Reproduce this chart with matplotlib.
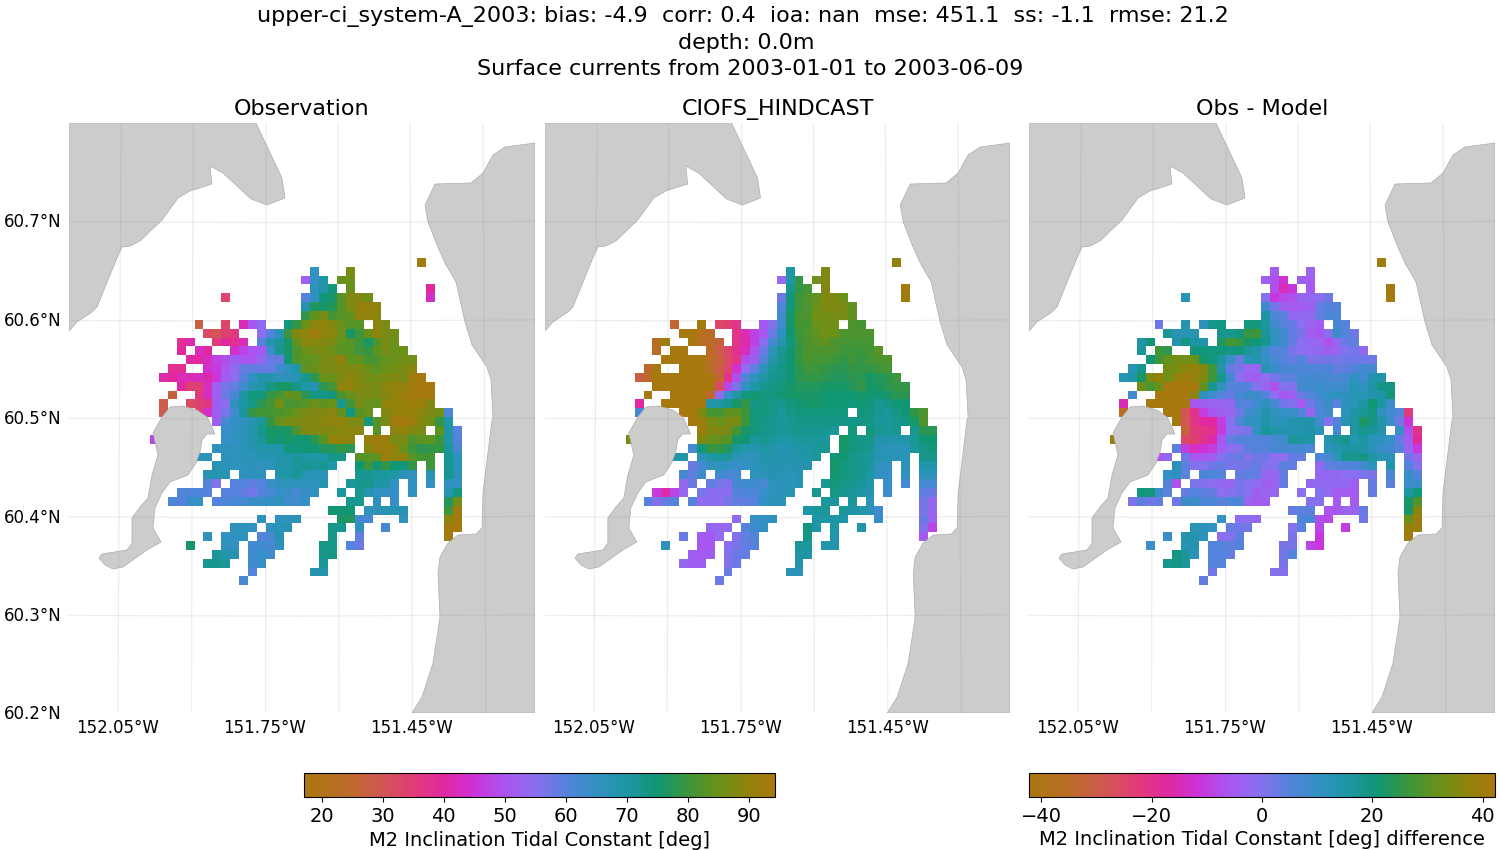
import numpy as np
import matplotlib
matplotlib.use('Agg')
import matplotlib.pyplot as plt
from matplotlib.colors import LinearSegmentedColormap
from matplotlib.patches import Polygon

# each run is (row, first column, values) on the model grid
obs_runs = [
    (-1, 30, [93]), (0, 18, [65]), (0, 22, [87]),
    (1, 17, [52, 65, 70]), (1, 21, [85, 85]),
    (2, 18, [66, 69, 74]), (2, 22, [85]), (2, 31, [40]),
    (3, 8, [33]), (3, 17, [60, 65, 74, 76, 83, 88, 88, 86]), (3, 31, [44]),
    (4, 17, [68, 77, 76, 77, 83, 87, 91, 91, 90]),
    (5, 17, [79, 84, 87, 81, 83, 84, 90, 90, 89]),
    (6, 5, [28]), (6, 8, [33]), (6, 10, [42, 50, 55]), (6, 15, [74, 79, 85, 89, 90, 88, 85, 83, 83]), (6, 25, [89, 87]),
    (7, 6, [32, 30, 34, 36]), (7, 12, [55, 60, 67, 80, 88, 90, 93, 90, 89, 85, 76, 80, 85, 90, 87, 86]),
    (8, 3, [38, 41]), (8, 7, [36, 40, 38, 42]), (8, 12, [60, 68, 71, 76, 84, 89, 89, 88, 87, 84, 83, 80, 76, 82, 87, 85]),
    (9, 3, [40]), (9, 5, [43, 40]), (9, 9, [44, 47, 50, 51, 63, 72, 76, 82, 85, 87, 87, 85, 83, 83, 80, 79, 84, 87, 85, 85]),
    (10, 4, [40, 40, 43, 47, 49, 52, 50, 50, 54, 58, 59, 75, 82, 84, 84, 87, 88, 90, 84, 84, 81, 82, 84, 85, 86, 86]),
    (11, 2, [38, 38]), (11, 6, [44, 46, 50, 54, 59, 59, 58, 58, 63, 66, 70, 84, 85, 87, 87, 88, 88, 87, 85, 83, 85, 86, 87, 89]),
    (12, 1, [41, 40, 42, 42, 43, 41, 45, 52, 55, 60, 65, 69, 68, 66, 67, 68, 72, 78, 85, 85, 88, 89, 88, 86, 86, 87, 88, 87, 93, 94]),
    (13, 3, [40, 34, 34, 43, 52, 57, 59, 63, 68, 70, 73, 76, 76, 73, 70, 68, 78, 81, 90, 90, 88, 87, 87, 89, 90, 90, 93, 94, 94]),
    (14, 2, [27]), (14, 5, [36, 43, 52, 58, 62, 70, 74, 74, 79, 81, 85, 84, 78, 73, 73, 74, 82, 85, 87, 87, 87, 88, 90, 92, 93, 94, 94]),
    (15, 1, [29]), (15, 4, [32, 34, 37, 52, 55, 66, 70, 73, 78, 81, 86, 81, 82, 83, 85, 84, 85, 72, 80, 87, 85, 84, 90, 90, 91, 92, 91, 88]),
    (16, 1, [29]), (16, 5, [34, 44, 52, 57, 63, 71, 79, 81, 81, 82, 83, 85, 87, 88, 88, 89, 84, 74, 83, 85]), (16, 26, [88, 90, 91, 91, 89, 87, 86, 61]),
    (17, 7, [52, 62, 65, 66, 68, 71, 79, 85, 87, 87, 88, 88, 89, 90, 90, 88, 87, 74, 83, 87, 93, 94, 92, 88, 86, 79, 70]),
    (18, 8, [64, 65, 67, 69, 72, 76, 76, 76, 82, 88, 88, 88, 88, 89, 89, 89]), (18, 25, [83]), (18, 27, [89, 90, 88, 87]), (18, 32, [84, 70, 60]),
    (19, 0, [48]), (19, 8, [64, 65, 67, 68, 71, 76, 75, 76, 75, 75, 78, 83, 90, 90, 89]), (19, 24, [91, 92, 92, 87, 87, 82, 84, 84, 80, 70, 60]),
    (20, 7, [66, 66, 66, 67, 68, 69, 69, 69, 74, 74, 75, 75, 77, 77, 79, 78]), (20, 24, [89, 92, 92, 90, 85, 80, 78, 79, 79, 71, 62]),
    (21, 5, [66, 67]), (21, 8, [67, 66, 67, 67, 68, 68, 69, 69, 71, 70, 70, 70, 73, 73]), (21, 23, [83, 83, 84, 92, 90, 90, 83, 81, 81]), (21, 33, [72, 67]),
    (22, 7, [68, 67, 66, 66, 67, 66, 66, 69, 70, 71, 72, 71, 72, 70]), (22, 23, [75, 80, 75, 79, 75, 74, 79]), (22, 31, [80]), (22, 33, [72, 67]),
    (23, 6, [68, 68, 68]), (23, 10, [66, 66, 66]), (23, 14, [70, 70, 71, 68, 67, 67]), (23, 23, [72, 72, 71, 71, 70, 67, 66]), (23, 31, [68]), (23, 33, [72, 67]),
    (24, 6, [60, 56]), (24, 9, [60, 60, 59, 60, 64, 66, 66, 66, 66, 66, 68]), (24, 22, [71, 72, 72, 70, 70, 65]), (24, 29, [65]), (24, 31, [65]), (24, 33, [66, 65]),
    (25, 3, [61, 61, 61, 60]), (25, 8, [60, 60, 59, 57, 60, 62, 64, 64, 62, 64, 66]), (25, 21, [71]), (25, 23, [72, 68, 65, 65, 64]), (25, 29, [65]), (25, 33, [68, 74]),
    (26, 2, [61, 60, 64, 65]), (26, 7, [60, 61, 62, 62, 64, 64, 65, 66, 63, 63, 65]), (26, 22, [72, 72]), (26, 25, [66]), (26, 27, [64]), (26, 33, [77, 86]),
    (27, 20, [75, 75, 75]), (27, 24, [66, 66, 68, 68, 68]), (27, 33, [80, 93]),
    (28, 12, [66]), (28, 14, [66, 66, 67]), (28, 21, [76, 77, 63, 62]), (28, 28, [66]), (28, 33, [89, 93]),
    (29, 9, [66, 66, 65]), (29, 13, [66, 67, 68]), (29, 20, [73, 72]), (29, 23, [66]), (29, 26, [62]), (29, 33, [93, 94]),
    (30, 6, [66]), (30, 8, [65, 65, 66]), (30, 12, [60, 62, 68]), (30, 20, [73]), (30, 23, [59]), (30, 33, [93]),
    (31, 4, [76]), (31, 8, [66, 65]), (31, 11, [62, 63, 62, 66]), (31, 19, [73, 73]), (31, 22, [60, 58]),
    (32, 7, [71, 69, 68]), (32, 11, [63, 64, 63]), (32, 19, [73, 73]),
    (33, 6, [72, 72, 71]), (33, 11, [63, 64]), (33, 19, [71]),
    (34, 11, [60]), (34, 18, [68, 68]), (35, 10, [62]),
]

model_runs = [
    (-1, 30, [90]), (0, 18, [70]), (0, 22, [88]),
    (1, 17, [54, 70, 79]), (1, 21, [86, 88]),
    (2, 18, [72, 79, 81]), (2, 22, [88]), (2, 31, [94]),
    (3, 17, [58, 74, 80, 82, 84, 88, 88, 85]), (3, 31, [92]),
    (4, 17, [61, 74, 80, 82, 85, 88, 88, 87, 84]),
    (5, 17, [63, 76, 81, 82, 86, 86, 87, 87, 84]),
    (6, 5, [26]), (6, 8, [93]), (6, 10, [33, 34, 37]), (6, 15, [51, 56, 63, 76, 81, 81, 85, 86, 86]), (6, 25, [82, 81]),
    (7, 6, [94, 94, 22, 24]), (7, 12, [37, 42, 47, 51, 58, 66, 75, 80, 82, 84, 86, 85, 82, 82, 82, 82]),
    (8, 3, [22, 92]), (8, 7, [94, 22, 24, 27]), (8, 12, [37, 41, 47, 55, 62, 68, 74, 79, 82, 83, 84, 82, 81, 81, 81, 81]),
    (9, 3, [23]), (9, 5, [94, 94]), (9, 9, [24, 28, 33, 38, 43, 50, 58, 66, 72, 75, 79, 82, 82, 82, 82, 80, 80, 80, 81, 83]),
    (10, 4, [94, 94, 94, 94, 94, 23, 27, 32, 37, 49, 52, 61, 68, 72, 75, 79, 82, 81, 81, 80, 79, 80, 79, 81, 82, 82]),
    (11, 2, [25, 94]), (11, 6, [94, 94, 94, 23, 28, 33, 44, 54, 59, 66, 71, 73, 75, 78, 80, 80, 79, 78, 78, 79, 79, 79, 80, 81]),
    (12, 1, [28, 24, 94, 94, 94, 94, 94, 94, 94, 26, 38, 49, 61, 66, 70, 72, 73, 75, 78, 79, 79, 78, 77, 77, 78, 78, 76, 77, 78, 80]),
    (13, 3, [94, 94, 94, 94, 94, 94, 94, 32, 48, 57, 65, 70, 72, 73, 74, 76, 77, 77, 77, 76, 76, 76, 77, 79, 76, 76, 78, 79, 79]),
    (14, 2, [94]), (14, 5, [94, 94, 94, 94, 25, 54, 64, 69, 74, 75, 74, 74, 75, 76, 76, 76, 76, 75, 75, 75, 75, 76, 75, 75, 76, 78, 78]),
    (15, 1, [40]), (15, 4, [94, 94, 94, 94, 94, 69, 70, 72, 76, 79, 73, 74, 73, 72, 74, 75, 76, 76, 75, 75, 75, 74, 75, 74, 72, 73, 75, 75]),
    (16, 1, [62]), (16, 6, [94, 94, 88, 81, 81, 84, 84, 80, 74, 74, 73, 71, 73, 74, 74, 74, 74, 74, 74]), (16, 26, [74, 74, 72, 71, 73, 75, 79, 82]),
    (17, 7, [94, 92, 87, 85, 87, 87, 80, 74, 73, 72, 71, 72, 73, 73, 73, 73, 73, 73, 73, 73, 73, 71, 71, 72, 73, 76, 82]),
    (18, 8, [92, 88, 88, 87, 81, 76, 74, 73, 72, 71, 72, 72, 72, 72, 72, 71]), (18, 25, [74]), (18, 27, [74, 72, 71, 72]), (18, 32, [72, 78, 78]),
    (19, 0, [88]), (19, 8, [88, 85, 84, 83, 76, 75, 71, 72, 71, 70, 70, 71, 71, 71, 71]), (19, 24, [76, 74, 73, 73, 69, 69, 69, 69, 71, 75, 75]),
    (20, 7, [62, 74, 79, 79, 77, 71, 69, 68, 70, 69, 68, 69, 70, 70, 71, 72]), (20, 24, [76, 74, 73, 72, 68, 67, 67, 67, 71, 73, 74]),
    (21, 5, [70, 69]), (21, 8, [66, 70, 71, 71, 67, 66, 66, 69, 69, 68, 68, 69, 70, 71]), (21, 23, [75, 75, 73, 72, 71, 68, 68, 67, 67]), (21, 33, [73, 73]),
    (22, 7, [58, 62, 66, 66, 65, 64, 65, 67, 68, 68, 68, 68, 68, 68]), (22, 23, [76, 74, 73, 72, 71, 66, 65]), (22, 31, [67]), (22, 33, [70, 70]),
    (23, 6, [62, 59, 63]), (23, 10, [63, 62, 62]), (23, 14, [66, 67, 68, 67, 67, 68]), (23, 23, [75, 74, 73, 72, 70, 65, 64]), (23, 31, [66]), (23, 33, [67, 67]),
    (24, 6, [54, 58]), (24, 9, [59, 57, 56, 62, 63, 63, 62, 66, 67, 67, 68]), (24, 22, [72, 74, 73, 72, 71, 69]), (24, 29, [64]), (24, 31, [62]), (24, 33, [62, 62]),
    (25, 3, [46, 41, 48, 53]), (25, 8, [57, 55, 55, 55, 60, 61, 61, 64, 66, 67, 68]), (25, 21, [72]), (25, 23, [73, 72, 71, 70, 68]), (25, 29, [63]), (25, 33, [59, 58]),
    (26, 2, [60, 56, 58, 60]), (26, 7, [60, 54, 55, 55, 57, 59, 59, 60, 65, 67, 67]), (26, 22, [71, 71]), (26, 25, [71]), (26, 27, [67]), (26, 33, [57, 54]),
    (27, 20, [70, 71, 71]), (27, 24, [71, 70, 69, 67, 63]), (27, 33, [57, 53]),
    (28, 12, [54]), (28, 14, [64, 65, 66]), (28, 21, [70, 70, 70, 70]), (28, 28, [64]), (28, 33, [58, 53]),
    (29, 9, [53, 53, 54]), (29, 13, [60, 63, 65]), (29, 20, [74, 70]), (29, 23, [70]), (29, 26, [69]), (29, 33, [56, 48]),
    (30, 6, [58]), (30, 8, [51, 51, 54]), (30, 12, [56, 59, 61]), (30, 20, [73]), (30, 23, [69]), (30, 33, [51]),
    (31, 4, [67]), (31, 8, [50, 50]), (31, 11, [55, 57, 59, 60]), (31, 19, [71, 71]), (31, 22, [69, 69]),
    (32, 7, [52, 51, 52]), (32, 11, [56, 58, 59]), (32, 19, [70, 70]),
    (33, 6, [54, 52, 52]), (33, 11, [56, 58]), (33, 19, [69]),
    (34, 11, [58]), (34, 18, [67, 67]), (35, 10, [58]),
]

diff_runs = [
    (-1, 30, [40]), (0, 18, [-5]), (0, 22, [-3]),
    (1, 17, [-4, -7, -12]), (1, 21, [-4, -5]),
    (2, 18, [-7, -15, -11]), (2, 22, [-5]), (2, 31, [41]),
    (3, 8, [13]), (3, 17, [0, -11, -8, -7, -3, -2, -1, 2]), (3, 31, [41]),
    (4, 17, [8, 2, -4, -5, -5, -4, 3, 5, 5]),
    (5, 17, [16, 6, 4, -2, -2, -2, 3, 6, 6]),
    (6, 5, [2]), (6, 8, [14]), (6, 10, [12, 18, 19]), (6, 15, [20, 20, 16, 8, 5, 3, -1, -3, -5]), (6, 25, [7, 5]),
    (7, 6, [17, 13, 13, 13]), (7, 12, [18, 18, 20, 26, 27, 17, 11, 8, 3, 1, -5, -6, 0, 9, 5, 2]),
    (8, 3, [15, 21]), (8, 7, [14, 19, 16, 15]), (8, 12, [23, 28, 26, 22, 21, 18, 11, 8, 3, -1, -2, -3, -7, -2, 3, 4]),
    (9, 3, [17]), (9, 5, [27, 25]), (9, 9, [20, 20, 20, 20, 19, 20, 17, 15, 9, 5, 5, 1, -1, -1, -2, -4, -3, 0, 2, -2]),
    (10, 4, [21, 27, 31, 33, 33, 32, 22, 20, 16, 9, 3, 13, 14, 10, 7, 5, 3, 5, 1, 1, 2, 1, 2, 2, 2, 2]),
    (11, 2, [13, 18]), (11, 6, [33, 34, 37, 38, 36, 27, 14, 3, 1, -3, -3, 13, 9, 7, 6, 6, 6, 5, 6, 3, 4, 5, 8, 7]),
    (12, 1, [13, 15, 22, 35, 38, 33, 37, 40, 38, 35, 27, 18, 8, -1, -4, -4, -1, 1, 4, 4, 7, 8, 7, 7, 6, 7, 11, 8, 14, 15]),
    (13, 3, [33, 28, 32, 42, 42, 42, 42, 31, 18, 11, 5, 5, 5, 0, -3, -7, 0, 0, 8, 8, 9, 8, 8, 9, 13, 11, 16, 19, 19]),
    (14, 2, [8]), (14, 5, [42, 42, 42, 42, 37, 12, 8, 5, 3, 7, 9, 9, 5, -1, -6, -4, 3, 5, 8, 10, 11, 11, 13, 13, 14, 15, 20]),
    (15, 1, [-15]), (15, 4, [42, 42, 42, 42, 42, -6, -4, -3, -3, -2, 5, 5, 8, 11, 7, 2, 0, -5, 2, 6, 9, 4, 11, 13, 16, 21, 16, 9]),
    (16, 1, [-36]), (16, 6, [42, 42, -28, -20, -10, -6, -4, -3, 2, 8, 10, 14, 11, 10, 9, 5, -3, 6, 8]), (16, 26, [12, 15, 17, 20, 11, 8, 5, -22]),
    (17, 7, [42, -29, -21, -17, -17, -10, -1, 6, 11, 11, 15, 12, 12, 14, 15, 15, 7, 0, 5, 13, 16, 23, 19, 15, 9, 2, -12]),
    (18, 8, [-32, -22, -21, -19, -10, -1, 0, 1, 10, 17, 15, 14, 14, 14, 15, 12]), (18, 25, [7]), (18, 27, [16, 18, 17, 14]), (18, 32, [9, -7, -20]),
    (19, 0, [40]), (19, 8, [-25, -24, -20, -16, -6, 3, 5, 5, 5, 5, 7, 8, 17, 16, 15]), (19, 24, [14, 17, 18, 13, 16, 12, 11, 10, 3, -5, -18]),
    (20, 7, [4, -10, -14, -12, -10, -4, -1, 0, 4, 5, 5, 7, 7, 7, 7, 6]), (20, 24, [12, 14, 16, 16, 15, 12, 9, 8, 5, -3, -11]),
    (21, 5, [-6, -2]), (21, 8, [2, -6, -6, -5, 0, 2, 3, 0, 2, 2, -1, -1, 3, 3]), (21, 23, [6, 7, 11, 18, 18, 19, 16, 13, 12]), (21, 33, [2, -3]),
    (22, 7, [12, 4, 0, 0, 2, 3, 1, 1, 2, 3, 0, 0, 4, 3]), (22, 23, [-2, 3, 5, 5, 6, 8, 12]), (22, 31, [15]), (22, 33, [5, 0]),
    (23, 6, [10, 11, 4]), (23, 10, [6, 6, 5]), (23, 14, [3, 4, 3, -2, -3, 3]), (23, 23, [-2, -2, -2, -1, -1, 1, 1]), (23, 31, [6]), (23, 33, [9, 5]),
    (24, 6, [5, -7]), (24, 9, [1, 0, -1, -2, -3, 1, 0, -1, -4, -3, 3]), (24, 22, [-2, -2, -2, -2, -2, -4]), (24, 29, [3]), (24, 31, [4]), (24, 33, [9, 9]),
    (25, 3, [20, 20, 9, 4]), (25, 8, [3, 5, 4, 3, -1, 0, 1, 0, -4, -3, -3]), (25, 21, [-1]), (25, 23, [0, -2, -5, -5, -5]), (25, 29, [3]), (25, 33, [16, 20]),
    (26, 2, [1, 4, 2, 3]), (26, 7, [2, 9, 9, 6, 6, 4, 6, 6, -3, -5, -4]), (26, 22, [0, 0]), (26, 25, [-5]), (26, 27, [-5]), (26, 33, [22, 29]),
    (27, 20, [3, 4, 4]), (27, 24, [-6, -6, -3, -3, 3]), (27, 33, [22, 36]),
    (28, 12, [10]), (28, 14, [-1, -1, -2]), (28, 21, [6, 7, -7, -8]), (28, 28, [2]), (28, 33, [32, 40]),
    (29, 9, [12, 12, 10]), (29, 13, [3, 2, 2]), (29, 20, [0, 4]), (29, 23, [-8]), (29, 26, [-10]), (29, 33, [38, 40]),
    (30, 6, [9]), (30, 8, [14, 14, 11]), (30, 12, [-1, 0, 4]), (30, 20, [1]), (30, 23, [-11]), (30, 33, [41]),
    (31, 4, [9]), (31, 8, [13, 14]), (31, 11, [5, 5, 4, 5]), (31, 19, [1, 1]), (31, 22, [-9, -11]),
    (32, 7, [19, 17, 12]), (32, 11, [5, 5, 3]), (32, 19, [2, 5]),
    (33, 6, [18, 19, 17]), (33, 11, [5, 5]), (33, 19, [1]),
    (34, 11, [2]), (34, 18, [0, 0]), (35, 10, [3]),
]

# coastlines in map units
coast_nw = [(0, 0), (187, 0), (213, 55), (216, 75), (198, 82), (182, 76), (154, 50), (141, 43), (143, 61), (121, 68),
            (109, 75), (93, 97), (71, 118), (61, 123), (53, 124), (48, 135), (28, 184), (23, 189), (8, 199), (0, 208)]
coast_e = [(466, 20), (436, 24), (424, 32), (414, 50), (402, 60), (366, 61), (356, 82), (359, 99), (368, 122), (376, 140),
           (387, 159), (396, 199), (403, 222), (418, 244), (422, 257), (424, 294), (423, 297), (414, 370), (413, 405),
           (407, 411), (389, 412), (379, 420), (371, 434), (369, 450), (371, 494), (364, 540), (353, 574), (343, 590), (466, 590)]
coast_island = [(101, 284), (114, 283), (128, 287), (138, 294), (142, 302), (146, 311), (138, 311), (133, 317), (131, 329),
                (127, 340), (119, 352), (101, 359), (93, 370), (86, 385), (84, 405), (92, 419), (78, 427), (54, 444),
                (44, 446), (36, 442), (30, 435), (33, 431), (58, 427), (63, 420), (63, 395), (71, 384), (79, 375),
                (83, 352), (89, 332), (84, 310), (93, 294)]

lon_ticks = [48.5, 196, 343]
lon_labels = ['152.05°W', '151.75°W', '151.45°W']
lat_ticks = [97, 196, 294, 393, 491, 589]
lat_labels = ['60.7°N', '60.6°N', '60.5°N', '60.4°N', '60.3°N', '60.2°N']
meridians_bottom = [49, 122.5, 196.5, 270, 343.5, 417]
meridians_top = [52, 124, 197, 269, 341, 414]
parallels = [99, 197.5, 295.5, 394, 492.5]

phase_colors = [(0.0, (168, 120, 13)), (0.10, (190, 105, 45)), (0.167, (210, 85, 85)), (0.232, (225, 60, 120)),
                (0.297, (225, 40, 160)), (0.36, (205, 50, 215)), (0.426, (170, 85, 240)), (0.49, (140, 110, 240)),
                (0.556, (85, 130, 220)), (0.62, (50, 145, 195)), (0.685, (30, 150, 165)), (0.75, (15, 150, 115)),
                (0.815, (60, 150, 60)), (0.88, (105, 145, 25)), (0.945, (145, 130, 12)), (1.0, (168, 120, 13))]
cmap = LinearSegmentedColormap.from_list('phase', [(p, tuple(c / 255 for c in rgb)) for p, rgb in phase_colors], N=512)

W, H = 1500, 850
N_COL, FIRST_ROW, LAST_ROW = 35, -1, 35
x_edges = 81 + 8.9 * np.arange(N_COL + 1)
y_edges = 143.7 + 8.85 * np.arange(FIRST_ROW, LAST_ROW + 2)


def to_grid(runs):
    grid = np.full((LAST_ROW - FIRST_ROW + 1, N_COL), np.nan)
    for row, col, values in runs:
        grid[row - FIRST_ROW, col:col + len(values)] = values
    return np.ma.masked_invalid(grid)


def pixel_axes(x0, y0, x1, y1):
    return fig.add_axes([x0 / W, 1 - y1 / H, (x1 - x0) / W, (y1 - y0) / H])


def grid_lines(ax, clip=None):
    alpha = 0.07 if clip is None else 0.05
    zorder = 1 if clip is None else 5
    lines = []
    for b, t in zip(meridians_bottom, meridians_top):
        lines += ax.plot([b, t], [590, 0], color='k', alpha=alpha, lw=0.9, zorder=zorder)
    for y in parallels:
        lines += ax.plot([0, 233, 466], [y, y + 0.6, y - 0.6], color='k', alpha=alpha, lw=0.9, zorder=zorder)
    if clip is not None:
        for line in lines:
            line.set_clip_path(clip)


def draw_panel(ax, runs, title, vmin, vmax, show_lat=False):
    mesh = ax.pcolormesh(x_edges, y_edges, to_grid(runs), cmap=cmap, vmin=vmin, vmax=vmax,
                         antialiased=False, linewidth=0, zorder=2)
    grid_lines(ax)
    for coast in (coast_nw, coast_e, coast_island):
        land = Polygon(coast, closed=True, facecolor='0.8', edgecolor='0.68', lw=0.5, zorder=3)
        ax.add_patch(land)
        grid_lines(ax, clip=land)
    ax.set_xlim(0, 466)
    ax.set_ylim(590, 0)
    ax.set_xticks(lon_ticks, lon_labels, fontsize=12)
    ax.set_yticks(lat_ticks, lat_labels if show_lat else [], fontsize=12)
    ax.tick_params(axis='x', length=0, pad=4.5)
    ax.tick_params(axis='y', length=0, pad=5.5)
    for spine in ax.spines.values():
        spine.set_visible(False)
    ax.set_title(title, fontsize=16, pad=6)
    return mesh


fig = plt.figure(figsize=(W / 100, H / 100), dpi=100)

ax1 = pixel_axes(69, 123, 535, 713)
ax2 = pixel_axes(545, 123, 1010, 713)
ax3 = pixel_axes(1029, 123, 1495, 713)
mesh1 = draw_panel(ax1, obs_runs, 'Observation', 17.1, 94.3, show_lat=True)
draw_panel(ax2, model_runs, 'CIOFS_HINDCAST', 17.1, 94.3)
mesh3 = draw_panel(ax3, diff_runs, 'Obs - Model', -42.2, 42.2)

fig.suptitle('upper-ci_system-A_2003: bias: -4.9  corr: 0.4  ioa: nan  mse: 451.1  ss: -1.1  rmse: 21.2  \n'
             'depth: 0.0m \nSurface currents from 2003-01-01 to 2003-06-09', fontsize=16, linespacing=1.36,
             y=1 - 6 / H, va='top')

cax1 = pixel_axes(304, 773, 775, 797)
cb1 = fig.colorbar(mesh1, cax=cax1, orientation='horizontal')
cb1.set_ticks(np.arange(20, 100, 10))
cb1.ax.tick_params(labelsize=14)
cb1.set_label('M2 Inclination Tidal Constant [deg]', fontsize=14, labelpad=3.5)

cax3 = pixel_axes(1029, 773, 1495, 797)
cb3 = fig.colorbar(mesh3, cax=cax3, orientation='horizontal')
cb3.set_ticks([-40, -20, 0, 20, 40])
cb3.ax.tick_params(labelsize=14)
cb3.set_label('M2 Inclination Tidal Constant [deg] difference', fontsize=14, labelpad=3)

fig.savefig('out.png', dpi=100)
